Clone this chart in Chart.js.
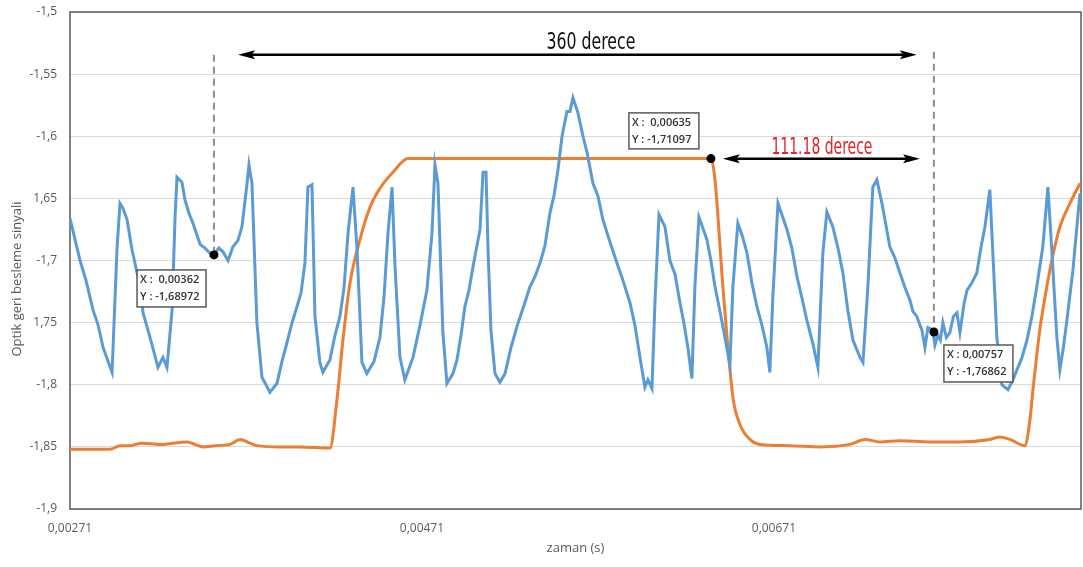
<!DOCTYPE html>
<html>
<head>
<meta charset="utf-8">
<script src="https://cdn.jsdelivr.net/npm/chart.js@4.4.1/dist/chart.umd.min.js"></script>
<style>
  html, body { margin: 0; padding: 0; background: #ffffff; }
  #wrap { width: 1083px; height: 567px; }
</style>
</head>
<body>
<div id="wrap"><canvas id="c" width="1083" height="567"></canvas></div>
<script>
// Optical feedback signal (blue) — time in seconds, value in volts
const blueTime = [
  0.002710, 0.002767, 0.002801, 0.002841, 0.002870, 0.002898, 0.002949, 0.002977, 0.002994, 0.003011,
  0.003034, 0.003062, 0.003091, 0.003108, 0.003125, 0.003165, 0.003210, 0.003238, 0.003261, 0.003290,
  0.003307, 0.003318, 0.003346, 0.003363, 0.003386, 0.003409, 0.003449, 0.003477, 0.003505, 0.003534,
  0.003556, 0.003579, 0.003608, 0.003636, 0.003664, 0.003687, 0.003716, 0.003727, 0.003744, 0.003772,
  0.003801, 0.003846, 0.003886, 0.003915, 0.003943, 0.003972, 0.004000, 0.004023, 0.004045, 0.004062,
  0.004085, 0.004102, 0.004130, 0.004147, 0.004187, 0.004216, 0.004244, 0.004267, 0.004290, 0.004318,
  0.004341, 0.004369, 0.004397, 0.004438, 0.004471, 0.004494, 0.004517, 0.004540, 0.004557, 0.004585,
  0.004613, 0.004659, 0.004699, 0.004738, 0.004767, 0.004784, 0.004801, 0.004829, 0.004852, 0.004886,
  0.004909, 0.004932, 0.004954, 0.004977, 0.005000, 0.005040, 0.005057, 0.005074, 0.005085, 0.005102,
  0.005125, 0.005153, 0.005182, 0.005216, 0.005250, 0.005290, 0.005324, 0.005352, 0.005381, 0.005409,
  0.005437, 0.005460, 0.005483, 0.005506, 0.005534, 0.005551, 0.005568, 0.005596, 0.005625, 0.005648,
  0.005682, 0.005710, 0.005738, 0.005778, 0.005818, 0.005852, 0.005892, 0.005920, 0.005949, 0.005977,
  0.005994, 0.006017, 0.006034, 0.006057, 0.006091, 0.006119, 0.006148, 0.006176, 0.006198, 0.006221,
  0.006244, 0.006261, 0.006284, 0.006329, 0.006352, 0.006375, 0.006398, 0.006420, 0.006460, 0.006477,
  0.006505, 0.006530, 0.006557, 0.006585, 0.006613, 0.006642, 0.006670, 0.006687, 0.006704, 0.006733,
  0.006784, 0.006812, 0.006841, 0.006869, 0.006897, 0.006930, 0.006960, 0.006988, 0.007011, 0.007045,
  0.007074, 0.007102, 0.007130, 0.007159, 0.007199, 0.007216, 0.007244, 0.007272, 0.007295, 0.007324,
  0.007347, 0.007369, 0.007398, 0.007426, 0.007455, 0.007483, 0.007500, 0.007522, 0.007540, 0.007551,
  0.007568, 0.007585, 0.007613, 0.007625, 0.007642, 0.007656, 0.007670, 0.007690, 0.007710, 0.007730,
  0.007750, 0.007767, 0.007790, 0.007807, 0.007835, 0.007863, 0.007886, 0.007909, 0.007937, 0.007954,
  0.007977, 0.008005, 0.008040, 0.008065, 0.008091, 0.008120, 0.008148, 0.008176, 0.008204, 0.008238,
  0.008267, 0.008290, 0.008318, 0.008335, 0.008355, 0.008375, 0.008409, 0.008449
];
const blueValue = [
  -1.666, -1.700, -1.716, -1.740, -1.752, -1.770, -1.790, -1.691, -1.654, -1.658,
  -1.667, -1.691, -1.710, -1.718, -1.742, -1.762, -1.786, -1.778, -1.786, -1.740,
  -1.665, -1.633, -1.637, -1.651, -1.662, -1.670, -1.687, -1.690, -1.694, -1.694,
  -1.690, -1.693, -1.700, -1.689, -1.684, -1.673, -1.638, -1.623, -1.638, -1.750,
  -1.794, -1.806, -1.799, -1.781, -1.766, -1.750, -1.737, -1.726, -1.702, -1.641,
  -1.639, -1.745, -1.782, -1.790, -1.780, -1.760, -1.745, -1.722, -1.678, -1.641,
  -1.691, -1.782, -1.791, -1.781, -1.762, -1.730, -1.678, -1.641, -1.705, -1.778,
  -1.796, -1.778, -1.752, -1.724, -1.678, -1.623, -1.638, -1.758, -1.799, -1.791,
  -1.780, -1.760, -1.737, -1.724, -1.705, -1.675, -1.629, -1.629, -1.689, -1.756,
  -1.791, -1.798, -1.791, -1.770, -1.753, -1.736, -1.721, -1.713, -1.702, -1.688,
  -1.662, -1.648, -1.627, -1.600, -1.580, -1.580, -1.569, -1.581, -1.600, -1.613,
  -1.638, -1.648, -1.667, -1.685, -1.702, -1.716, -1.734, -1.752, -1.778, -1.802,
  -1.796, -1.803, -1.734, -1.663, -1.673, -1.700, -1.711, -1.734, -1.750, -1.770,
  -1.795, -1.721, -1.665, -1.683, -1.700, -1.721, -1.737, -1.753, -1.784, -1.721,
  -1.670, -1.680, -1.694, -1.718, -1.737, -1.752, -1.770, -1.790, -1.729, -1.654,
  -1.675, -1.690, -1.713, -1.730, -1.748, -1.766, -1.786, -1.694, -1.661, -1.673,
  -1.690, -1.710, -1.740, -1.764, -1.778, -1.782, -1.721, -1.641, -1.635, -1.654,
  -1.672, -1.689, -1.698, -1.710, -1.722, -1.732, -1.741, -1.745, -1.752, -1.756,
  -1.770, -1.754, -1.756, -1.768, -1.760, -1.764, -1.750, -1.762, -1.758, -1.745,
  -1.742, -1.758, -1.735, -1.724, -1.718, -1.710, -1.690, -1.673, -1.643, -1.694,
  -1.762, -1.800, -1.804, -1.797, -1.788, -1.778, -1.764, -1.745, -1.721, -1.689,
  -1.641, -1.694, -1.762, -1.788, -1.770, -1.748, -1.708, -1.646
];

// Reference drive signal (orange)
const orangeTime = [
  0.002710, 0.002937, 0.002994, 0.003051, 0.003119, 0.003221, 0.003375, 0.003420, 0.003466, 0.003534,
  0.003619, 0.003676, 0.003733, 0.003772, 0.003903, 0.004017, 0.004187, 0.004227, 0.004261, 0.004301,
  0.004358, 0.004415, 0.004471, 0.004545, 0.004631, 0.006352, 0.006375, 0.006420, 0.006477, 0.006517,
  0.006574, 0.006631, 0.006801, 0.006971, 0.007142, 0.007227, 0.007312, 0.007426, 0.007596, 0.007767,
  0.007937, 0.007994, 0.008051, 0.008136, 0.008165, 0.008182, 0.008221, 0.008261, 0.008295, 0.008335,
  0.008392, 0.008449
];
const orangeValue = [
  -1.852, -1.852, -1.849, -1.849, -1.847, -1.848, -1.846, -1.848, -1.850, -1.849,
  -1.848, -1.844, -1.847, -1.849, -1.850, -1.850, -1.851, -1.812, -1.764, -1.718,
  -1.683, -1.657, -1.642, -1.629, -1.618, -1.618, -1.635, -1.721, -1.810, -1.832,
  -1.844, -1.848, -1.849, -1.850, -1.848, -1.844, -1.846, -1.845, -1.846, -1.846,
  -1.844, -1.842, -1.844, -1.849, -1.828, -1.804, -1.756, -1.721, -1.696, -1.673,
  -1.654, -1.638
];

// Axis ticks
const xTickValues = [0.00271, 0.00471, 0.00671];
const xTickLabels = ['0,00271', '0,00471', '0,00671'];
const yTickValues = [-1.9, -1.85, -1.8, -1.75, -1.7, -1.65, -1.6, -1.55, -1.5];
const yTickLabels = ['-1,9', '-1,85', '-1,8', '1,75', '-1,7', '1,65', '-1,6', '-1,55', '-1,5'];

// Cursor readouts: marker position on the curve and the readout text
const cursorTime = [0.003528, 0.006352, 0.007619];
const cursorValue = [-1.6955, -1.618, -1.7575];
const cursorText = [
  ['X :  0,00362', 'Y : -1,68972'],
  ['X :  0,00635', 'Y : -1,71097'],
  ['X : 0,00757', 'Y : -1,76862']
];

// Readout box anchors (top-left corner in data units) and sizes in px
const boxAnchors = [
  { t: 0.003091, v: -1.7076, w: 69, h: 37 },
  { t: 0.005886, v: -1.5812, w: 70, h: 36 },
  { t: 0.007676, v: -1.7680, w: 69, h: 37 }
];

// Phase arrows and captions (data units)
const fullPeriodArrow = { t0: 0.003665, t1: 0.007522, v: -1.5345 };
const phaseArrow = { t0: 0.006420, t1: 0.007540, v: -1.6182 };
const fullPeriodCaption = { text: '360 derece', t: 0.005670, v: -1.5248 };
const phaseCaption = { text: '111.18 derece', t: 0.006983, v: -1.6093 };
const guideTops = [-1.5345, -1.532];

const bluePoints = blueTime.map((t, i) => ({ x: t, y: blueValue[i] }));
const orangePoints = orangeTime.map((t, i) => ({ x: t, y: orangeValue[i] }));

function arrowHead(ctx, x, y, dir) {
  const len = 17, half = 4.5;
  ctx.beginPath();
  ctx.moveTo(x, y);
  ctx.lineTo(x - dir * len, y - half);
  ctx.lineTo(x - dir * len * 0.8, y);
  ctx.lineTo(x - dir * len, y + half);
  ctx.closePath();
  ctx.fill();
}

function doubleArrow(ctx, x0, x1, y) {
  ctx.beginPath();
  ctx.moveTo(x0 + 8, y);
  ctx.lineTo(x1 - 8, y);
  ctx.stroke();
  arrowHead(ctx, x0, y, -1);
  arrowHead(ctx, x1, y, 1);
}

const overlay = {
  id: 'overlay',
  beforeDatasetsDraw(chart) {
    const { ctx, chartArea: a } = chart;
    ctx.save();
    ctx.strokeStyle = '#595959';
    ctx.lineWidth = 1.5;
    ctx.strokeRect(a.left, a.top, a.right - a.left, a.bottom - a.top);
    ctx.restore();
  },
  afterDatasetsDraw(chart) {
    const { ctx, scales: { x, y } } = chart;
    const px = v => x.getPixelForValue(v);
    const py = v => y.getPixelForValue(v);
    ctx.save();

    // dashed guides from the arrow down to the cursor markers
    ctx.strokeStyle = '#8c8c8c';
    ctx.lineWidth = 2;
    ctx.setLineDash([7, 5]);
    [0, 2].forEach((k, j) => {
      ctx.beginPath();
      ctx.moveTo(px(cursorTime[k]), py(guideTops[j]));
      ctx.lineTo(px(cursorTime[k]), py(cursorValue[k]));
      ctx.stroke();
    });
    ctx.setLineDash([]);

    // arrows
    ctx.strokeStyle = '#000000';
    ctx.fillStyle = '#000000';
    ctx.lineWidth = 2.5;
    doubleArrow(ctx, px(fullPeriodArrow.t0), px(fullPeriodArrow.t1), py(fullPeriodArrow.v));
    doubleArrow(ctx, px(phaseArrow.t0), px(phaseArrow.t1), py(phaseArrow.v));

    // captions
    ctx.textAlign = 'center';
    ctx.textBaseline = 'middle';
    ctx.font = '23px "Liberation Sans Narrow", "DejaVu Sans Condensed", sans-serif';
    ctx.fillStyle = '#111111';
    ctx.fillText(fullPeriodCaption.text, px(fullPeriodCaption.t), py(fullPeriodCaption.v), 89);
    ctx.fillStyle = '#e3242b';
    ctx.fillText(phaseCaption.text, px(phaseCaption.t), py(phaseCaption.v), 101);

    // cursor markers
    ctx.fillStyle = '#000000';
    cursorTime.forEach((t, i) => {
      ctx.beginPath();
      ctx.arc(px(t), py(cursorValue[i]), 4.5, 0, Math.PI * 2);
      ctx.fill();
    });

    // readout boxes
    ctx.textAlign = 'left';
    ctx.textBaseline = 'middle';
    ctx.font = '600 11px "Open Sans", sans-serif';
    boxAnchors.forEach((b, i) => {
      const bx = px(b.t), by = py(b.v);
      ctx.fillStyle = '#ffffff';
      ctx.fillRect(bx, by, b.w, b.h);
      ctx.strokeStyle = '#595959';
      ctx.lineWidth = 1.5;
      ctx.strokeRect(bx, by, b.w, b.h);
      ctx.fillStyle = '#333333';
      ctx.fillText(cursorText[i][0], bx + 3, by + 9.5, b.w - 6);
      ctx.fillText(cursorText[i][1], bx + 3, by + 27, b.w - 6);
    });

    ctx.restore();
  },
  afterDraw(chart) {
    const { ctx } = chart;
    ctx.save();
    ctx.translate(17, 279);
    ctx.rotate(-Math.PI / 2);
    ctx.textAlign = 'center';
    ctx.textBaseline = 'middle';
    ctx.font = '13px "Open Sans", sans-serif';
    ctx.fillStyle = '#595959';
    ctx.fillText('Optik geri besleme sinyali', 0, 0);
    ctx.restore();
  }
};

new Chart(document.getElementById('c'), {
  type: 'line',
  data: {
    datasets: [
      {
        label: 'Optik geri besleme',
        data: bluePoints,
        borderColor: '#5b9bd5',
        borderWidth: 3,
        pointRadius: 0,
        tension: 0,
        fill: false
      },
      {
        label: 'Referans',
        data: orangePoints,
        borderColor: '#ed7d31',
        borderWidth: 3,
        pointRadius: 0,
        cubicInterpolationMode: 'monotone',
        fill: false
      }
    ]
  },
  options: {
    responsive: false,
    devicePixelRatio: 1,
    animation: false,
    layout: { padding: { top: 12, right: 2, left: 0, bottom: 0 } },
    plugins: { legend: { display: false }, tooltip: { enabled: false } },
    scales: {
      x: {
        type: 'linear',
        min: 0.00271,
        max: 0.008455,
        afterFit(scale) { scale.height = 58; },
        afterBuildTicks(scale) { scale.ticks = xTickValues.map(v => ({ value: v })); },
        grid: { display: false, drawTicks: false },
        border: { display: false },
        ticks: {
          autoSkip: false,
          maxRotation: 0,
          padding: 12,
          color: '#595959',
          font: { family: '"Open Sans", sans-serif', size: 12 },
          callback: (v, i) => xTickLabels[i]
        },
        title: {
          display: true,
          text: 'zaman (s)',
          color: '#595959',
          font: { family: '"Open Sans", sans-serif', size: 13 },
          padding: { top: 0, bottom: 11 }
        }
      },
      y: {
        type: 'linear',
        min: -1.9,
        max: -1.5,
        afterFit(scale) { scale.width = 70; },
        afterBuildTicks(scale) { scale.ticks = yTickValues.map(v => ({ value: v })); },
        grid: { color: '#d9d9d9', lineWidth: 1, drawTicks: true, tickLength: 13, tickColor: 'rgba(0,0,0,0)' },
        border: { display: false },
        ticks: {
          padding: 0,
          color: '#595959',
          font: { family: '"Open Sans", sans-serif', size: 12 },
          callback: (v, i) => yTickLabels[i]
        }
      }
    }
  },
  plugins: [overlay]
});
</script>
</body>
</html>
